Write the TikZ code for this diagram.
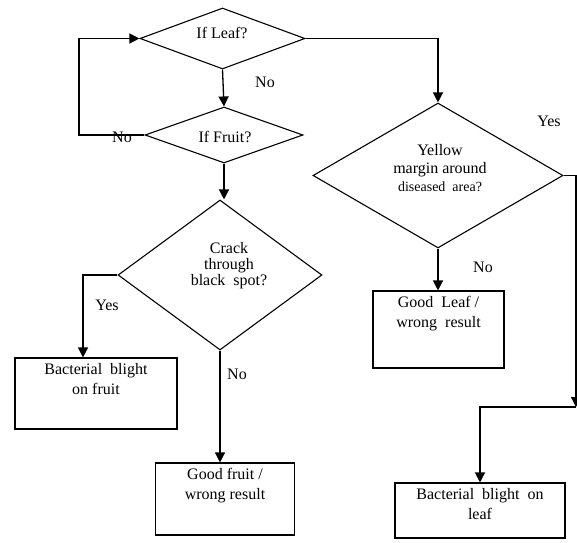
\documentclass[tikz,border=0pt]{standalone}
\usepackage{fontspec}
\setmainfont{Liberation Serif}
\usetikzlibrary{shapes.geometric,arrows.meta}
\begin{document}
\begin{tikzpicture}[x=1bp,y=-1bp,
  font=\fontsize{16bp}{18bp}\selectfont,
  arr/.style={draw, line width=1.3bp, -{Triangle[length=10bp,width=10bp]}},
  dia/.style={diamond, draw, line width=1.1bp, inner sep=0pt, align=center},
  boxx/.style={rectangle, draw, line width=1.1bp, inner sep=0pt},
  boxtext/.style={anchor=north, align=center, inner sep=0pt, font=\fontsize{16bp}{20bp}\selectfont},
  lab/.style={inner sep=0pt}]
\useasboundingbox (0,0) rectangle (577,543);
% decisions
\node[dia, minimum width=165bp, minimum height=61bp] (leaf) at (222.5,38.5) {};
\node at (222,33) {If Leaf?};
\node[dia, minimum width=158bp, minimum height=56bp] (fruit) at (224,135) {};
\node at (225,137) {If Fruit?};
\node[dia, minimum width=204bp, minimum height=150bp] (crack) at (220,275) {};
\node[align=center, font=\fontsize{16bp}{16bp}\selectfont] at (229,266) {Crack\\through\\black\ \ spot?};
\node[dia, minimum width=250bp, minimum height=145bp] (yellow) at (438,175.5) {};
\node[align=center, font=\fontsize{16bp}{18bp}\selectfont] at (440,168) {Yellow\\margin around\\{\fontsize{14bp}{18bp}\selectfont diseased\ \ area?}};
% boxes
\node[boxx, minimum width=131bp, minimum height=77bp] (goodleaf) at (438.5,329.5) {};
\node[boxtext] at ([yshift=-6bp]goodleaf.north) {Good\ \ Leaf /\\wrong\ \ result};
\node[boxx, minimum width=162bp, minimum height=71bp] (bbfruit) at (96,393.5) {};
\node[boxtext] at ([yshift=-6bp]bbfruit.north) {Bacterial\ \ blight\\on fruit};
\node[boxx, minimum width=139bp, minimum height=72bp] (goodfruit) at (225,499) {};
\node[boxtext] at ([yshift=-6bp]goodfruit.north) {Good fruit /\\wrong result};
\node[boxx, minimum width=170bp, minimum height=55bp] (bbleaf) at (480,510.5) {};
\node[boxtext] at ([yshift=-6bp]bbleaf.north) {Bacterial\ \ blight\ \ on\\leaf};
% connectors
\coordinate (loopc) at (79,135);
\coordinate (rc) at (576,407);
\draw[arr] (leaf.south) -- (fruit.north);
\draw[arr] (fruit.west) -- (loopc) |- (leaf.west);
\draw[arr] (leaf.east) -| (yellow.north);
\draw[arr] (fruit.south) -- (fruit.south |- crack.north);
\draw[arr] (yellow.south) -- (yellow.south |- goodleaf.north);
\draw[arr] (yellow.east) -| (rc);
\draw[arr] (rc) -| (bbleaf.north);
\draw[arr] (crack.west) -| ([xshift=-13bp]bbfruit.north);
\draw[arr] (crack.south) -- (crack.south |- goodfruit.north);
% labels
\node[lab] at (265,82) {No};
\node[lab] at (122,137) {No};
\node[lab] at (549,121) {Yes};
\node[lab] at (483,267) {No};
\node[lab] at (107,305) {Yes};
\node[lab] at (237,374) {No};
\end{tikzpicture}
\end{document}
